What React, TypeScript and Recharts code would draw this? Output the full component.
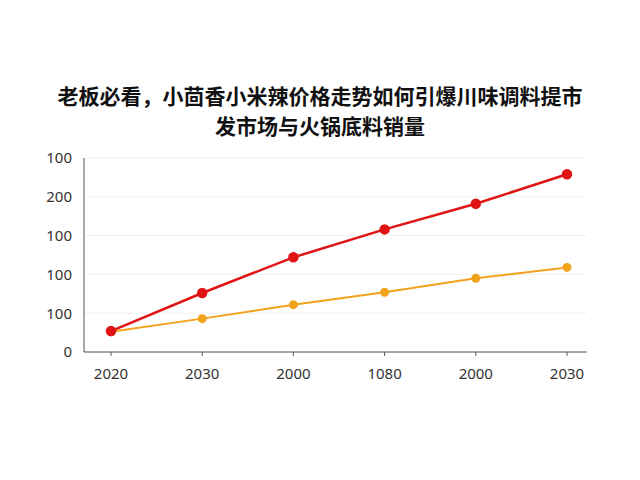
import React from 'react';
import { CartesianGrid, Line, LineChart, XAxis, YAxis } from 'recharts';

// categories as printed on the x axis (labels are as in the source picture)
const years = ['2020', '2030', '2000', '1080', '2000', '2030'];
const redSeries = [27, 76, 122, 158, 191, 229];
const orangeSeries = [26, 43, 61, 77, 95, 109];
const yTicks = [0, 50, 100, 150, 200, 250];
const yTickLabels = ['0', '100', '100', '100', '200', '100'];

const data = years.map((year, i) => ({
    key: i,
    year,
    red: redSeries[i],
    orange: orangeSeries[i],
}));

const tickStyle = { fill: '#333', fontSize: 15, fontFamily: 'Noto Sans, DejaVu Sans, sans-serif' };

export default function App() {
    return (
        <div style={{ position: 'absolute', left: 0, top: 0, width: 640, height: 480, background: '#fff' }}>
            <div
                style={{
                    position: 'absolute',
                    left: 0,
                    top: 80,
                    width: 640,
                    textAlign: 'center',
                    fontFamily: '"Noto Sans CJK SC", sans-serif',
                    fontWeight: 700,
                    fontSize: 21,
                    lineHeight: '30px',
                    color: '#111',
                }}
            >
                老板必看，小茴香小米辣价格走势如何引爆川味调料提市
                <br />
                发市场与火锅底料销量
            </div>
            <LineChart
                width={640}
                height={480}
                data={data}
                margin={{ top: 158, right: 53, bottom: 98, left: 44 }}
                style={{ position: 'absolute', left: 0, top: 0 }}
            >
                <CartesianGrid vertical={false} stroke="#f0f0f0" />
                <XAxis
                    dataKey="key"
                    tickFormatter={(v: number) => years[v]}
                    padding={{ left: 27, right: 20 }}
                    height={30}
                    tickSize={4}
                    tickMargin={12}
                    stroke="#555"
                    tick={tickStyle}
                />
                <YAxis
                    domain={[0, 250]}
                    ticks={yTicks}
                    tickFormatter={(v: number) => yTickLabels[yTicks.indexOf(v)]}
                    width={40}
                    tickLine={false}
                    tickMargin={6}
                    stroke="#555"
                    tick={tickStyle}
                />
                <Line
                    dataKey="orange"
                    stroke="#f2a31c"
                    strokeWidth={2}
                    dot={{ r: 3.5, fill: '#f2a31c', stroke: '#f2a31c' }}
                    isAnimationActive={false}
                />
                <Line
                    dataKey="red"
                    stroke="#e01414"
                    strokeWidth={2.5}
                    dot={{ r: 4, fill: '#e01414', stroke: '#e01414' }}
                    isAnimationActive={false}
                />
            </LineChart>
        </div>
    );
}
